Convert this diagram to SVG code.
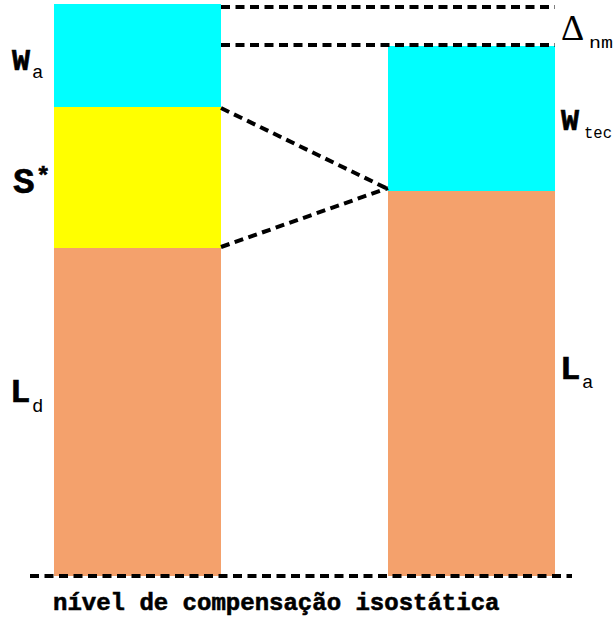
<svg xmlns="http://www.w3.org/2000/svg" width="615" height="623" viewBox="0 0 615 623">
<style>
.dash{stroke:#000;stroke-width:4;stroke-dasharray:9 5.5;fill:none}
.lbl{font-family:"Liberation Mono","Courier New",monospace;font-weight:bold;fill:#000;stroke:#000;stroke-width:0.6}
.sub{font-family:"Liberation Mono","Courier New",monospace;fill:#000;font-size:19px}
</style>
<rect width="615" height="623" fill="#fff"/>
<g id="left-column">
<rect x="54" y="4" width="167" height="103" fill="#00ffff"/>
<rect x="54" y="107" width="167" height="141" fill="#ffff00"/>
<rect x="54" y="248" width="167" height="328" fill="#f4a16c"/>
</g>
<g id="right-column">
<rect x="388" y="46" width="167" height="145" fill="#00ffff"/>
<rect x="388" y="191" width="167" height="385" fill="#f4a16c"/>
</g>
<g id="connectors">
<line class="dash" x1="221" y1="7" x2="555" y2="7"/>
<line class="dash" x1="221" y1="45" x2="555" y2="45"/>
<line class="dash" x1="221" y1="108" x2="388" y2="189"/>
<line class="dash" x1="221" y1="247" x2="388" y2="188"/>
<line class="dash" x1="30" y1="576" x2="572" y2="576"/>
</g>
<g id="labels">
<text class="lbl" x="12" y="70" font-size="30">W</text><text class="sub" x="32" y="78">a</text>
<text class="lbl" x="13" y="193" font-size="36">S</text><text class="lbl" x="36" y="184" font-size="24">*</text>
<text class="lbl" x="10" y="402" font-size="34">L</text><text class="sub" x="32" y="412">d</text>
<text class="lbl" x="560" y="379" font-size="34">L</text><text class="sub" x="582" y="388">a</text>
<text class="lbl" x="561" y="130" font-size="30">W</text><text class="sub" x="584" y="138" font-size="17" style="font-size:17px" textLength="28" lengthAdjust="spacingAndGlyphs">tec</text>
<text x="561" y="40" font-family="Liberation Serif, serif" font-size="36" fill="#000">Δ</text><text class="sub" x="589" y="48" style="font-size:17px" textLength="24" lengthAdjust="spacingAndGlyphs">nm</text>
<text class="lbl" x="53" y="610" font-size="24">nível de compensação isostática</text>
</g>
</svg>
